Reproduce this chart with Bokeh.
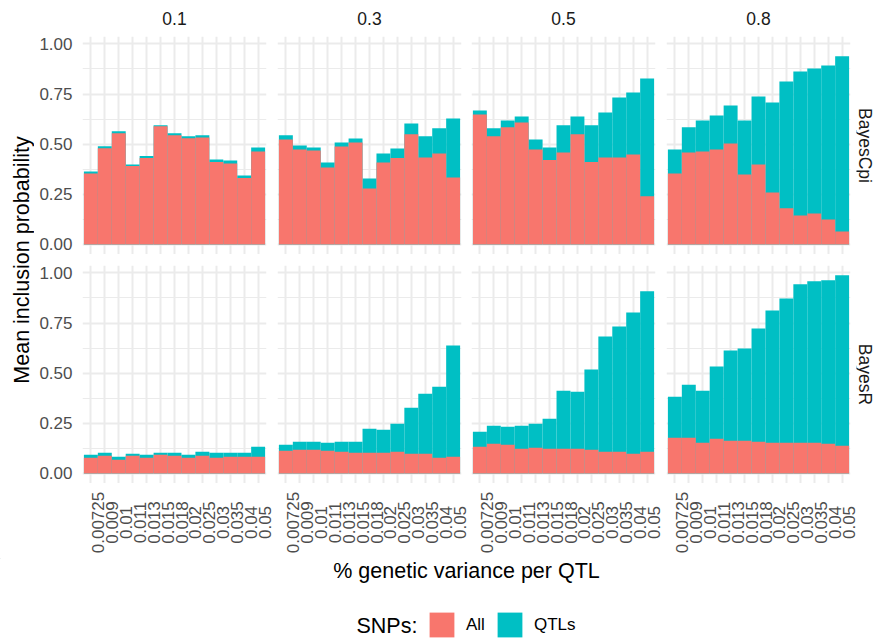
import math
from bokeh.plotting import figure
from bokeh.models import (Range1d, FixedTicker, Grid, LinearAxis, PrintfTickFormatter,
                          ColumnDataSource, Legend, LegendItem)
from bokeh.layouts import row, column
from bokeh.embed import file_html
from bokeh.resources import INLINE
from bokeh.core.properties import value

# ---------------- data ----------------
qtl_variance = ["0.00725", "0.009", "0.01", "0.011", "0.013", "0.015", "0.018",
                "0.02", "0.025", "0.03", "0.035", "0.04", "0.05"]
heritability = ["0.1", "0.3", "0.5", "0.8"]
methods = ["BayesCpi", "BayesR"]
y_ticks = [0.0, 0.25, 0.5, 0.75, 1.0]
y_minor_ticks = [0.125, 0.375, 0.625, 0.875]

# BayesCpi
cpi_01_all = [0.354, 0.480, 0.554, 0.391, 0.431, 0.589, 0.544, 0.530, 0.534, 0.411, 0.404, 0.331, 0.464]
cpi_01_qtl = [0.364, 0.490, 0.565, 0.399, 0.441, 0.594, 0.554, 0.539, 0.544, 0.424, 0.419, 0.344, 0.484]
cpi_03_all = [0.524, 0.474, 0.469, 0.384, 0.489, 0.509, 0.279, 0.409, 0.431, 0.549, 0.434, 0.454, 0.334]
cpi_03_qtl = [0.544, 0.494, 0.484, 0.409, 0.509, 0.529, 0.329, 0.454, 0.479, 0.603, 0.539, 0.579, 0.628]
cpi_05_all = [0.648, 0.539, 0.584, 0.608, 0.474, 0.421, 0.459, 0.549, 0.411, 0.434, 0.434, 0.449, 0.241]
cpi_05_qtl = [0.668, 0.579, 0.618, 0.638, 0.524, 0.484, 0.594, 0.638, 0.594, 0.658, 0.733, 0.758, 0.828]
cpi_08_all = [0.354, 0.459, 0.464, 0.474, 0.504, 0.349, 0.399, 0.259, 0.180, 0.145, 0.155, 0.125, 0.065]
cpi_08_qtl = [0.474, 0.584, 0.618, 0.643, 0.693, 0.618, 0.738, 0.708, 0.813, 0.863, 0.878, 0.893, 0.938]
# BayesR
r_01_all = [0.078, 0.088, 0.068, 0.088, 0.078, 0.093, 0.088, 0.078, 0.088, 0.078, 0.083, 0.083, 0.083]
r_01_qtl = [0.093, 0.103, 0.083, 0.098, 0.093, 0.103, 0.103, 0.093, 0.108, 0.103, 0.103, 0.103, 0.133]
r_03_all = [0.113, 0.118, 0.118, 0.113, 0.108, 0.103, 0.103, 0.103, 0.108, 0.098, 0.098, 0.078, 0.083]
r_03_qtl = [0.143, 0.158, 0.158, 0.153, 0.158, 0.158, 0.223, 0.218, 0.248, 0.328, 0.398, 0.433, 0.638]
r_05_all = [0.133, 0.148, 0.143, 0.123, 0.128, 0.123, 0.123, 0.123, 0.118, 0.108, 0.108, 0.098, 0.108]
r_05_qtl = [0.208, 0.238, 0.233, 0.238, 0.248, 0.273, 0.413, 0.408, 0.518, 0.683, 0.733, 0.803, 0.908]
r_08_all = [0.178, 0.178, 0.153, 0.173, 0.163, 0.163, 0.158, 0.153, 0.153, 0.153, 0.153, 0.148, 0.138]
r_08_qtl = [0.383, 0.443, 0.413, 0.533, 0.613, 0.623, 0.723, 0.813, 0.873, 0.943, 0.958, 0.963, 0.988]

panel_data = [
    [(cpi_01_all, cpi_01_qtl), (cpi_03_all, cpi_03_qtl), (cpi_05_all, cpi_05_qtl), (cpi_08_all, cpi_08_qtl)],
    [(r_01_all, r_01_qtl), (r_03_all, r_03_qtl), (r_05_all, r_05_qtl), (r_08_all, r_08_qtl)],
]

# ---------------- style / layout ----------------
FONT = "Liberation Sans"
RED = "#F8766D"
CYAN = "#00BFC4"
GRID = "#EBEBEB"
TICK_COLOR = "#4D4D4D"
STRIP_COLOR = "#1A1A1A"
TICK_SIZE = "17px"
STRIP_SIZE = "17.5px"
TITLE_SIZE = "21.5px"

xpos = list(range(1, len(qtl_variance) + 1))
X_START, X_END = 0.4, len(qtl_variance) + 0.6

HEAD_H = 36      # column strip height
FRAME_W = 184
FRAME_H = 218
GAP_H = 11       # gap between the panel rows
LAB_H = 75       # height of the x tick-label strip
FOOT_H = 82
LEFT_W = 34      # y-title strip width
RIGHT_W = 21     # right facet-strip width
LEFT_B = [48, 3, 2, 3]
RIGHT_B = [8, 8, 8, 6]
GAPS = [11, 10, 11, 10]  # space to the right of each panel in the tick-label row
UNIT_PER_PX = (X_END - X_START) / FRAME_W


def make_panel(mi, hi, all_vals, qtl_vals):
    p = figure(frame_width=FRAME_W, frame_height=FRAME_H,
               x_range=Range1d(X_START, X_END), y_range=Range1d(-0.05, 1.037),
               x_axis_type=None, y_axis_type=None,
               output_backend="svg", toolbar_location=None,
               min_border_left=LEFT_B[hi], min_border_right=RIGHT_B[hi],
               min_border_top=0 if mi == 0 else GAP_H, min_border_bottom=0,
               outline_line_color=None, background_fill_color="white",
               border_fill_color="white")

    p.add_layout(Grid(dimension=0, ticker=FixedTicker(ticks=xpos),
                      grid_line_color=GRID, grid_line_width=2))
    p.add_layout(Grid(dimension=1, ticker=FixedTicker(ticks=y_ticks, minor_ticks=y_minor_ticks),
                      grid_line_color=GRID, grid_line_width=2,
                      minor_grid_line_color=GRID, minor_grid_line_width=1))

    src = ColumnDataSource(dict(x=xpos, all=all_vals, qtl=qtl_vals))
    p.vbar(x="x", top="qtl", bottom=0, width=1, source=src,
           fill_color=CYAN, line_color=None)
    p.vbar(x="x", top="all", bottom=0, width=1, source=src,
           fill_color=RED, line_color=None)

    if hi == 0:
        ya = LinearAxis(ticker=FixedTicker(ticks=y_ticks),
                        formatter=PrintfTickFormatter(format="%.2f"),
                        axis_line_color=None, major_tick_line_color=None,
                        minor_tick_line_color=None, major_tick_out=0, major_tick_in=0,
                        minor_tick_out=0, minor_tick_in=0, major_label_standoff=10,
                        major_label_text_font=FONT, major_label_text_font_size=TICK_SIZE,
                        major_label_text_color=TICK_COLOR)
        p.add_layout(ya, "left")
    return p


def make_label_strip(hi):
    # rotated x tick labels, centred vertically in the strip (ggplot style)
    er = GAPS[hi]
    p = figure(frame_width=FRAME_W + er, frame_height=LAB_H,
               x_range=Range1d(X_START, X_END + er * UNIT_PER_PX),
               y_range=Range1d(0, 1),
               x_axis_type=None, y_axis_type=None,
               output_backend="svg", toolbar_location=None,
               min_border_left=LEFT_B[0] if hi == 0 else 0, min_border_right=0,
               min_border_top=0, min_border_bottom=0,
               outline_line_color=None, background_fill_color="white",
               border_fill_color="white")
    src = ColumnDataSource(dict(x=xpos, y=[0.48] * len(xpos), text=qtl_variance))
    p.text(x="x", y="y", text="text", source=src, angle=math.pi / 2, x_offset=7,
           text_align="center", text_baseline="middle",
           text_font=value(FONT), text_font_size=TICK_SIZE, text_color=TICK_COLOR)
    return p


top_row = row(*[make_panel(0, hi, *panel_data[0][hi]) for hi in range(4)])
bot_row = row(*[make_panel(1, hi, *panel_data[1][hi]) for hi in range(4)])
lab_row = row(*[make_label_strip(hi) for hi in range(4)])

PANELS_H = FRAME_H + GAP_H + FRAME_H
BODY_H = PANELS_H + LAB_H

# column strip labels (coordinates = page pixels)
hd = figure(width=877, height=HEAD_H, x_range=Range1d(0, 877), y_range=Range1d(HEAD_H, 0),
            x_axis_type=None, y_axis_type=None, output_backend="svg", toolbar_location=None,
            min_border=0, outline_line_color=None)
col_centers = []
x0 = LEFT_W
for hi in range(4):
    col_centers.append(x0 + LEFT_B[hi] + FRAME_W / 2)
    x0 += LEFT_B[hi] + FRAME_W + RIGHT_B[hi]
hd.text(x=col_centers, y=[17.5] * 4, text=heritability,
        text_font=value(FONT), text_font_size=STRIP_SIZE, text_align="center",
        text_baseline="middle", text_color=STRIP_COLOR)

# y-axis title
yt = figure(width=LEFT_W, height=BODY_H, x_range=Range1d(0, LEFT_W),
            y_range=Range1d(HEAD_H + BODY_H, HEAD_H),
            x_axis_type=None, y_axis_type=None, output_backend="svg", toolbar_location=None,
            min_border=0, outline_line_color=None)
yt.text(x=[21], y=[259.5], text=["Mean inclusion probability"], angle=math.pi / 2,
        text_font=value(FONT), text_font_size=TITLE_SIZE, text_align="center",
        text_baseline="middle", text_color="black")

# right facet strips (row labels), only beside the two panel rows
rs_left = x0
rs = figure(width=RIGHT_W, height=PANELS_H, x_range=Range1d(rs_left, rs_left + RIGHT_W),
            y_range=Range1d(HEAD_H + PANELS_H, HEAD_H),
            x_axis_type=None, y_axis_type=None, output_backend="svg", toolbar_location=None,
            min_border=0, outline_line_color=None)
rs.text(x=[864.5, 864.5], y=[145, 374], text=methods, angle=-math.pi / 2,
        text_font=value(FONT), text_font_size=STRIP_SIZE, text_align="center",
        text_baseline="middle", text_color=STRIP_COLOR)

# footer: x title + legend
base = HEAD_H + BODY_H
ft = figure(width=877, height=FOOT_H, x_range=Range1d(0, 877),
            y_range=Range1d(base + FOOT_H, base),
            x_axis_type=None, y_axis_type=None, output_backend="svg", toolbar_location=None,
            min_border=0, outline_line_color=None)
ft.text(x=[466], y=[570], text=["% genetic variance per QTL"],
        text_font=value(FONT), text_font_size=TITLE_SIZE, text_align="center",
        text_baseline="middle", text_color="black")
ft.text(x=[356], y=[625], text=["SNPs:"],
        text_font=value(FONT), text_font_size=TITLE_SIZE, text_align="left",
        text_baseline="middle", text_color="black")
# legend-key renderers (placed outside the visible range)
r_all = ft.vbar(x=[-1000], top=[0], width=1, fill_color=RED, line_color=None)
r_qtl = ft.vbar(x=[-1000], top=[0], width=1, fill_color=CYAN, line_color=None)
legend = Legend(items=[LegendItem(label="All", renderers=[r_all]),
                       LegendItem(label="QTLs", renderers=[r_qtl])],
                orientation="horizontal", location=(426, 0),
                glyph_width=31, glyph_height=31, label_standoff=9, spacing=8,
                padding=0, margin=0, border_line_color=None, background_fill_alpha=0,
                label_text_font=FONT, label_text_font_size=TICK_SIZE,
                label_text_color="black")
ft.add_layout(legend)

body = column(row(column(top_row, bot_row), rs), lab_row)
page = column(hd, row(yt, body), ft)

open("out.html", "w").write(file_html(page, INLINE))
